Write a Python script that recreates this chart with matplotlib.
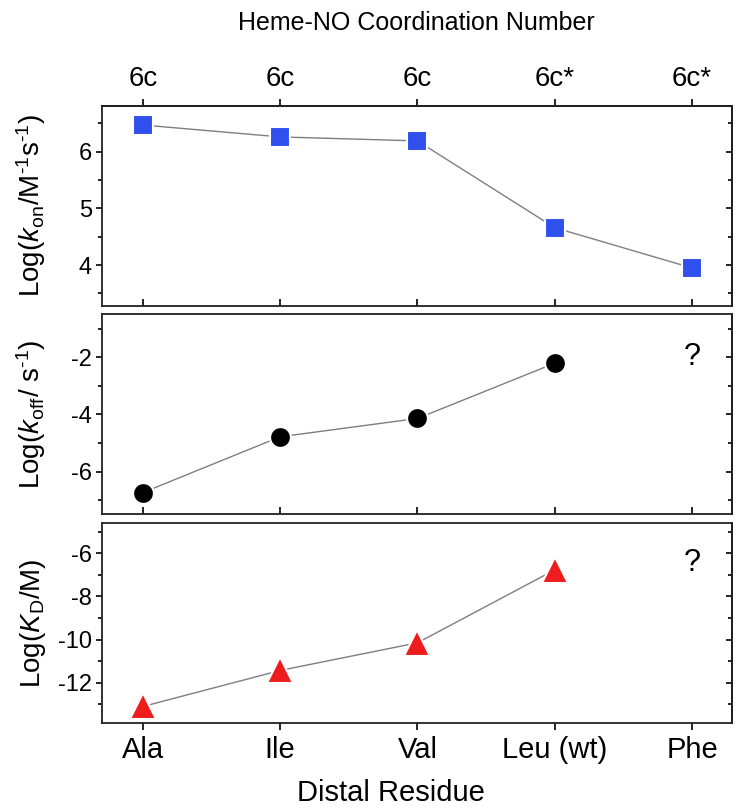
import numpy as np
import matplotlib
matplotlib.use('Agg')
import matplotlib.pyplot as plt
from matplotlib.ticker import MultipleLocator

plt.rcParams['font.family'] = ['Liberation Sans', 'DejaVu Sans']
plt.rcParams['mathtext.fontset'] = 'custom'
plt.rcParams['mathtext.rm'] = 'Liberation Sans'
plt.rcParams['mathtext.it'] = 'Liberation Sans:italic'
plt.rcParams['axes.unicode_minus'] = False

# data
residues = ['Ala', 'Ile', 'Val', 'Leu (wt)', 'Phe']
coord = ['6c', '6c', '6c', '6c*', '6c*']
log_kon = [6.47, 6.26, 6.19, 4.66, 3.95]
log_koff = [-6.73, -4.78, -4.14, -2.21]
log_kd = [-13.1, -11.43, -10.15, -6.77]

x = np.arange(1, len(residues) + 1)

fig = plt.figure(figsize=(7.37, 8.09), dpi=100)
L, W = 0.138, 0.855
ax1 = fig.add_axes([L, 0.6218, W, 0.2475])
ax2 = fig.add_axes([L, 0.3646, W, 0.2469])
ax3 = fig.add_axes([L, 0.1059, W, 0.2473])

line_kw = dict(color='#7f7f7f', lw=1.0, zorder=1)
ax1.plot(x, log_kon, **line_kw)
ax1.plot(x, log_kon, ls='none', marker='s', ms=14, mfc='#3050ee', mec='white', mew=1.5, zorder=3)
ax2.plot(x[:4], log_koff, **line_kw)
ax2.plot(x[:4], log_koff, ls='none', marker='o', ms=15, mfc='black', mec='white', mew=1.5, zorder=3)
ax3.plot(x[:4], log_kd, **line_kw)
ax3.plot(x[:4], log_kd, ls='none', marker='^', ms=19, mfc='#ee1c1c', mec='white', mew=1.5, zorder=3)

ax2.text(5, -2.0, '?', fontsize=22, ha='center', va='center')
ax3.text(5, -6.45, '?', fontsize=22, ha='center', va='center')

ax1.set_ylim(3.28, 6.81)
ax2.set_ylim(-7.48, -0.5)
ax3.set_ylim(-13.88, -4.61)
ax1.yaxis.set_major_locator(MultipleLocator(1))
ax1.yaxis.set_minor_locator(MultipleLocator(0.5))
ax2.yaxis.set_major_locator(MultipleLocator(2))
ax2.yaxis.set_minor_locator(MultipleLocator(1))
ax3.yaxis.set_major_locator(MultipleLocator(2))
ax3.yaxis.set_minor_locator(MultipleLocator(1))

ax1.set_ylabel('Log($\\it{k}$$_{\\rm on}$/M$^{\\text{-1}}$s$^{\\text{-1}}$)', fontsize=20)
ax2.set_ylabel('Log($\\it{k}$$_{\\rm off}$/ s$^{\\text{-1}}$)', fontsize=20)
ax3.set_ylabel('Log($\\it{K}$$_{\\rm D}$/M)', fontsize=20)

for ax in (ax1, ax2, ax3):
    ax.set_xlim(0.70, 5.29)
    ax.set_xticks(x)
    for s in ax.spines.values():
        s.set_linewidth(1.3)
        s.set_color('#222222')
    ax.tick_params(axis='y', which='both', direction='out', labelsize=17, width=1.2, pad=3)
    ax.tick_params(axis='y', which='major', length=4)
    ax.tick_params(axis='y', which='minor', length=3)
    ax.yaxis.set_label_coords(-0.085, 0.5)
    # right side ticks pointing inward, no labels
    sec = ax.secondary_yaxis('right')
    sec.yaxis.set_major_locator(ax.yaxis.get_major_locator())
    sec.yaxis.set_minor_locator(ax.yaxis.get_minor_locator())
    sec.tick_params(which='both', direction='in', labelright=False, width=1.2)
    sec.tick_params(which='major', length=4)
    sec.tick_params(which='minor', length=3)
    sec.spines['right'].set_linewidth(1.3)

for ax in (ax1, ax2):
    ax.tick_params(axis='x', direction='in', length=5, width=1.2, labelbottom=False)

ax3.tick_params(axis='x', direction='out', length=5, width=1.2, labelsize=21, pad=4)
ax3.set_xticklabels(residues)
ax3.set_xlabel('Distal Residue', fontsize=21)
ax3.xaxis.set_label_coords(0.459, -0.28)

top = ax1.secondary_xaxis('top')
top.set_xticks(x)
top.set_xticklabels(coord)
top.tick_params(direction='out', length=5, width=1.2, labelsize=20, pad=5)
top.spines['top'].set_linewidth(1.3)
top.set_xlabel('Heme-NO Coordination Number', fontsize=18, labelpad=26)

fig.savefig('out.png', dpi=100)
